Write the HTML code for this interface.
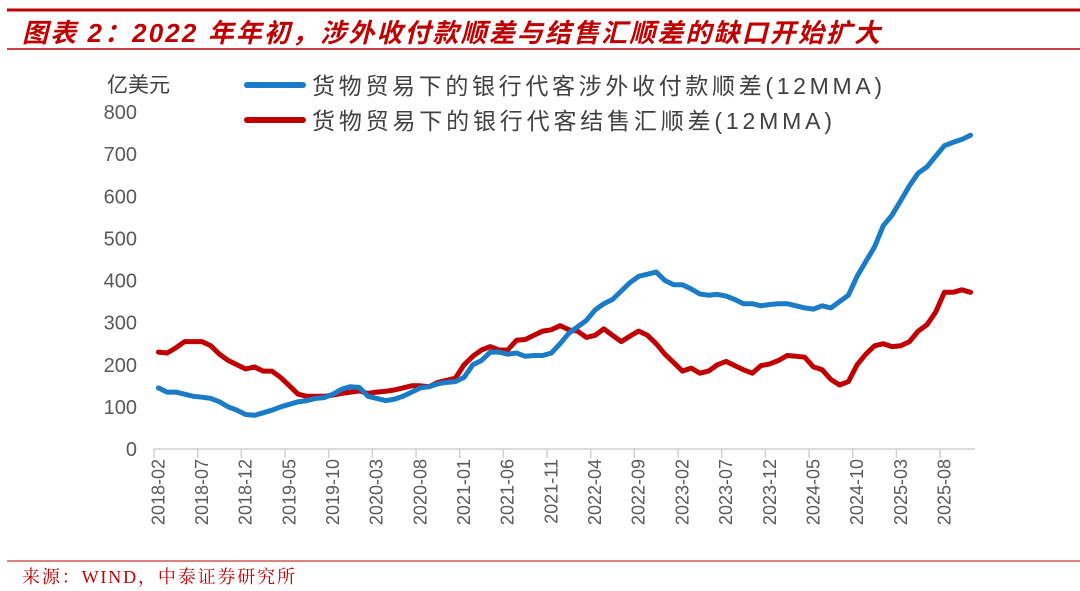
<!DOCTYPE html>
<html><head><meta charset="utf-8">
<style>
html,body{margin:0;padding:0;background:#fff;}
body{width:1080px;height:591px;overflow:hidden;position:relative;font-family:"Liberation Sans","Noto Sans CJK SC",sans-serif;}
svg{position:absolute;left:0;top:0;}
</style></head>
<body>
<svg id="chart" width="1080" height="591">
  <line x1="7" y1="10" x2="1080" y2="10" stroke="#c00000" stroke-width="3"/>
  <text x="22" y="42" font-size="26" font-weight="bold" font-style="italic" fill="#c00000" textLength="858" lengthAdjust="spacing" font-family="Liberation Sans, Noto Sans CJK SC, sans-serif">图表 2：2022 年年初，涉外收付款顺差与结售汇顺差的缺口开始扩大</text>
  <line x1="7" y1="49" x2="1080" y2="49" stroke="#c00000" stroke-width="1.5"/>
  <text x="107" y="92" font-size="21" fill="#404040">亿美元</text>
  <g id="legend">
    <line x1="247" y1="85" x2="303" y2="85" stroke="#1a7bc6" stroke-width="6" stroke-linecap="round"/>
    <text x="312" y="94" font-size="23" fill="#404040" textLength="570" lengthAdjust="spacing">货物贸易下的银行代客涉外收付款顺差(12MMA)</text>
    <line x1="247" y1="120" x2="303" y2="120" stroke="#c00000" stroke-width="6" stroke-linecap="round"/>
    <text x="312" y="129" font-size="23" fill="#404040" textLength="520" lengthAdjust="spacing">货物贸易下的银行代客结售汇顺差(12MMA)</text>
  </g>
  <g id="yaxis"></g>
  <g id="xaxis"></g>
  <g id="series"></g>
  <line x1="7" y1="561" x2="1080" y2="561" stroke="#c00000" stroke-width="1"/>
  <text x="22" y="583" font-size="18" fill="#c00000" textLength="273" lengthAdjust="spacing" font-family="Liberation Serif, Noto Serif CJK SC, serif">来源：WIND，中泰证券研究所</text>
</svg>
<script>
const yTicks = [0,100,200,300,400,500,600,700,800];
const startYear = 2018, startMonth = 2, nPoints = 94;
const blueValues = [145,135,135,130,125,123,120,112,100,92,82,
 80,86,92,100,106,112,115,120,122,130,142,148,
 146,125,120,115,118,125,135,145,148,155,158,160,
 170,200,210,230,230,225,228,220,222,222,228,250,
 275,290,305,330,345,355,375,395,410,415,420,400,
 390,390,380,368,365,367,363,355,345,345,340,343,
 345,345,340,335,332,340,335,350,365,410,445,480,
 530,555,590,625,655,670,695,720,728,735,745];
const redValues = [230,228,240,255,255,255,245,225,210,200,190,
 195,185,185,170,150,130,125,125,125,128,132,135,
 138,132,135,137,140,145,150,150,148,158,163,168,
 200,220,235,243,235,235,258,260,270,280,283,293,
 283,280,265,270,285,270,255,268,280,270,250,225,
 205,185,192,180,185,200,208,198,188,180,198,202,
 210,222,220,218,195,188,165,152,160,200,225,245,
 250,243,245,255,280,295,325,372,372,378,372];
const categories = [];
for (let i = 0; i < nPoints; i++) {
  const m = startMonth - 1 + i;
  const yy = startYear + Math.floor(m / 12), mm = m % 12 + 1;
  categories.push(yy + '-' + String(mm).padStart(2, '0'));
}
const NS = 'http://www.w3.org/2000/svg';
const X0 = 154, X1 = 975, Y0 = 449, Y800 = 112;
const bw = (X1 - X0) / categories.length;
const xs = i => X0 + (i + 0.5) * bw;
const ys = v => Y0 - v * (Y0 - Y800) / 800;
function mk(tag, attrs, parent) {
  const e = document.createElementNS(NS, tag);
  for (const k in attrs) e.setAttribute(k, attrs[k]);
  parent.appendChild(e); return e;
}
const yg = document.getElementById('yaxis');
yTicks.forEach(t => {
  const el = mk('text', {x: 137, y: ys(t) + 7, 'font-size': 20, fill: '#595959', 'text-anchor': 'end'}, yg);
  el.textContent = t;
  
  
});
const xg = document.getElementById('xaxis');
const axis = mk('line', {x1: X0, y1: Y0, x2: X1, y2: Y0, stroke: '#d0d0d0', 'stroke-width': 1.5}, xg);


for (let i = 0; i < categories.length; i += 5) {
  const tx = X0 + i * bw;
  const tk = mk('line', {x1: tx, y1: Y0, x2: tx, y2: Y0 + 9, stroke: '#d0d0d0', 'stroke-width': 1.5}, xg);
  
  
  const cx = xs(i) + 6;
  const lb = mk('text', {x: cx, y: Y0 + 10, 'font-size': 18, fill: '#595959', 'text-anchor': 'end', transform: `rotate(-90 ${cx} ${Y0 + 10})`}, xg);
  lb.textContent = categories[i];
  
  
}
const sg = document.getElementById('series');
function line(vals, color, name) {
  const d = vals.map((v, i) => (i ? 'L' : 'M') + xs(i).toFixed(1) + ' ' + ys(v).toFixed(1)).join(' ');
  const p = mk('path', {d, fill: 'none', stroke: color, 'stroke-width': 5, 'stroke-linejoin': 'round', 'stroke-linecap': 'round'}, sg);
  
  
}
line(redValues, '#c00000', 'series-settlement-surplus-line');
line(blueValues, '#1a7bc6', 'series-cross-border-surplus-line');
</script>
</body></html>
